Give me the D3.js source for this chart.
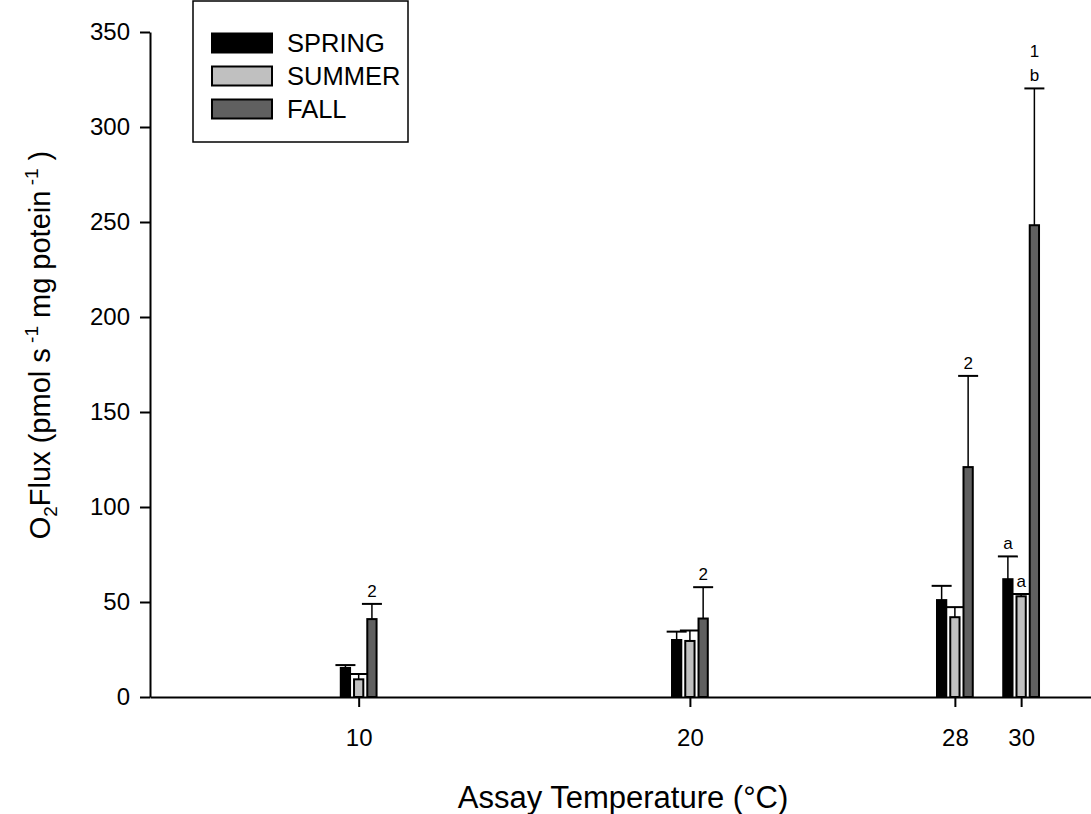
<!DOCTYPE html>
<html>
<head>
<meta charset="utf-8">
<script src="https://cdn.jsdelivr.net/npm/d3@7"></script>
<style>
  body { margin: 0; background: #fff; }
  svg { display: block; font-family: "Liberation Sans", Arial, sans-serif; }
</style>
</head>
<body>
<svg width="1091" height="814"></svg>
<script>
// data
const temps = [10, 20, 28, 30]
const spring = [15.3, 30, 51, 62]
const springErr = [1.5, 4.4, 7.5, 12]
const summer = [9.3, 29.5, 42, 53]
const summerErr = [2.8, 5.5, 5.3, 1.2]
const fall = [41, 41.3, 121, 248.3]
const fallErr = [8, 16.5, 48, 72]
const yTicks = [0, 50, 100, 150, 200, 250, 300, 350]

const seasons = ['SPRING', 'SUMMER', 'FALL']
const seasonColors = ['#000000', '#c0c0c0', '#606060']

// significance letters above the error bars
const notes = [
    {temp: 10, season: 'FALL', text: ['2']},
    {temp: 20, season: 'FALL', text: ['2']},
    {temp: 28, season: 'FALL', text: ['2']},
    {temp: 30, season: 'FALL', text: ['1', 'b']},
    {temp: 30, season: 'SPRING', text: ['a']},
    {temp: 30, season: 'SUMMER', text: ['a']}
]

const svg = d3.select('svg')
const width = +svg.attr('width')
const height = +svg.attr('height')

const render = () => {
    const margin = {top: 32, left: 150, bottom: 117}
    const axisY = height - margin.bottom

    const xscale = d3.scaleLinear()
        .domain([3.7, 32.2])
        .range([margin.left, margin.left + 944])

    const yscale = d3.scaleLinear()
        .domain([0, 350])
        .range([axisY, margin.top])

    // one row per bar
    const rows = []
    temps.forEach((t, i) => {
        rows.push({temp: t, season: 'SPRING', value: spring[i], err: springErr[i], idx: 0})
        rows.push({temp: t, season: 'SUMMER', value: summer[i], err: summerErr[i], idx: 1})
        rows.push({temp: t, season: 'FALL', value: fall[i], err: fallErr[i], idx: 2})
    })

    const step = 0.40  // offset between bars in a group (degrees)
    const barW = 0.28
    const center = d => xscale(d.temp + (d.idx - 1) * step)
    const bw = xscale(barW) - xscale(0)

    // error bars first so the bars sit on top
    const err = svg.append('g')
    err.selectAll('line.stem').data(rows).enter().append('line')
        .attr('x1', center).attr('x2', center)
        .attr('y1', d => yscale(d.value))
        .attr('y2', d => yscale(d.value + d.err))
        .attr('stroke', '#000').attr('stroke-width', 1.5)
    err.selectAll('line.cap').data(rows).enter().append('line')
        .attr('x1', d => center(d) - 10).attr('x2', d => center(d) + 10)
        .attr('y1', d => yscale(d.value + d.err))
        .attr('y2', d => yscale(d.value + d.err))
        .attr('stroke', '#000').attr('stroke-width', 2)

    svg.append('g').selectAll('rect').data(rows).enter().append('rect')
        .attr('x', d => center(d) - bw / 2)
        .attr('y', d => yscale(d.value))
        .attr('width', bw)
        .attr('height', d => axisY - yscale(d.value))
        .attr('fill', d => seasonColors[d.idx])
        .attr('stroke', '#000')
        .attr('stroke-width', 2)

    // letters
    notes.forEach(n => {
        const d = rows.find(r => r.temp === n.temp && r.season === n.season)
        const top = yscale(d.value + d.err)
        n.text.slice().reverse().forEach((s, k) => {
            svg.append('text')
                .attr('x', center(d))
                .attr('y', top - 7 - k * 24)
                .attr('text-anchor', 'middle')
                .attr('font-size', 17)
                .text(s)
        })
    })

    // axes
    const yAxis = svg.append('g')
        .attr('transform', `translate(${margin.left},0)`)
        .call(d3.axisLeft(yscale).tickValues(yTicks).tickSize(10).tickSizeOuter(0).tickPadding(10))
    yAxis.selectAll('text').attr('font-size', 24).attr('font-family', null).attr('fill', '#000')
    yAxis.selectAll('line, path').attr('stroke', '#000').attr('stroke-width', 2)

    const xAxis = svg.append('g')
        .attr('transform', `translate(0,${axisY})`)
        .call(d3.axisBottom(xscale).tickValues(temps).tickSize(10).tickSizeOuter(0).tickPadding(22))
    xAxis.selectAll('text').attr('font-size', 24).attr('font-family', null).attr('fill', '#000')
    xAxis.selectAll('line, path').attr('stroke', '#000').attr('stroke-width', 2)

    // axis titles
    svg.append('text')
        .attr('x', 623).attr('y', 808)
        .attr('text-anchor', 'middle')
        .attr('font-size', 31)
        .text('Assay Temperature (°C)')

    const ylab = svg.append('text')
        .attr('transform', 'translate(50,345) rotate(-90)')
        .attr('text-anchor', 'middle')
        .attr('font-size', 29)
    ylab.append('tspan').text('O')
    ylab.append('tspan').attr('font-size', 19).attr('dy', 7).text('2')
    ylab.append('tspan').attr('dy', -7).text('Flux (pmol s')
    ylab.append('tspan').attr('font-size', 19).attr('dy', -12).text(' -1')
    ylab.append('tspan').attr('dy', 12).text(' mg potein')
    ylab.append('tspan').attr('font-size', 19).attr('dy', -12).text(' -1')
    ylab.append('tspan').attr('dy', 12).text(' )')

    // legend
    const legend = svg.append('g')
    legend.append('rect')
        .attr('x', 193).attr('y', 1)
        .attr('width', 215).attr('height', 141)
        .attr('fill', 'none').attr('stroke', '#000').attr('stroke-width', 1.5)
    const item = legend.selectAll('g.item').data(seasons).enter().append('g')
        .attr('transform', (d, i) => `translate(0,${43 + i * 33})`)
    item.append('rect')
        .attr('x', 212).attr('y', -9.5)
        .attr('width', 60).attr('height', 19)
        .attr('fill', (d, i) => seasonColors[i])
        .attr('stroke', '#000').attr('stroke-width', 2)
    item.append('text')
        .attr('x', 287).attr('y', 9)
        .attr('font-size', 25.5)
        .text(d => d)
}

render()
</script>
</body>
</html>
